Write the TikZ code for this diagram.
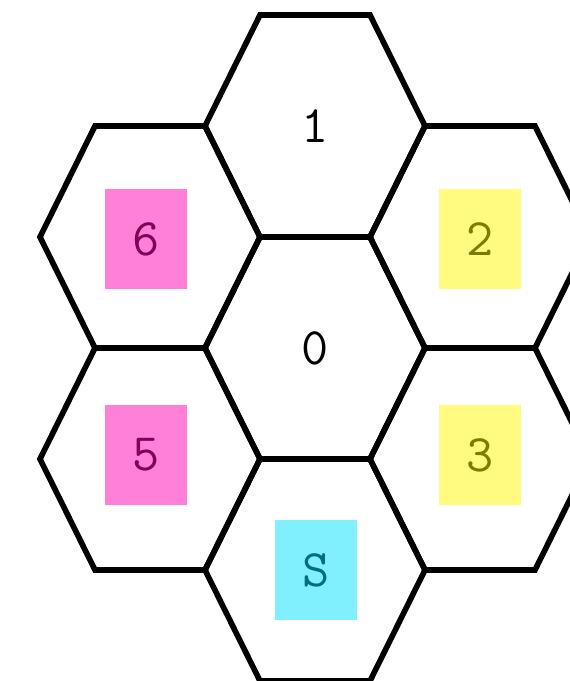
\documentclass[tikz,border=0pt]{standalone}
\definecolor{pinkbox}{RGB}{255,128,214}
\definecolor{pinktext}{RGB}{128,0,86}
\definecolor{yellowbox}{RGB}{255,250,128}
\definecolor{yellowtext}{RGB}{128,122,0}
\definecolor{cyanbox}{RGB}{128,240,255}
\definecolor{cyantext}{RGB}{0,112,128}
\begin{document}
\begin{tikzpicture}[line width=1.6pt,
  cell/.style={font=\fontsize{15}{17}\selectfont\ttfamily},
  tag/.style={cell, minimum width=0.82cm, minimum height=1cm, inner sep=0pt}]
\useasboundingbox (0,0) rectangle (5.7,6.81);
\clip (0,0) rectangle (5.7,6.81);
% hexagon cells
\foreach \x/\y in {3.15/3.33, 3.15/5.55, 1.5/4.44, 4.8/4.44, 1.5/2.22, 4.8/2.22, 3.15/1.11}
  \draw (\x-1.1,\y) -- ++(0.55,1.11) -- ++(1.1,0) -- ++(0.55,-1.11) -- ++(-0.55,-1.11) -- ++(-1.1,0) -- cycle;
% labels
\node[cell] (c0) at (3.15,3.33) {0};
\node[cell] (c1) at (3.15,5.55) {1};
\node[tag, fill=yellowbox, text=yellowtext] (c2) at (4.8,4.42) {2};
\node[tag, fill=yellowbox, text=yellowtext] (c3) at (4.8,2.26) {3};
\node[tag, fill=pinkbox, text=pinktext] (c5) at (1.46,2.26) {5};
\node[tag, fill=pinkbox, text=pinktext] (c6) at (1.46,4.42) {6};
\node[tag, fill=cyanbox, text=cyantext] (cs) at (3.16,1.11) {S};
\end{tikzpicture}
\end{document}
